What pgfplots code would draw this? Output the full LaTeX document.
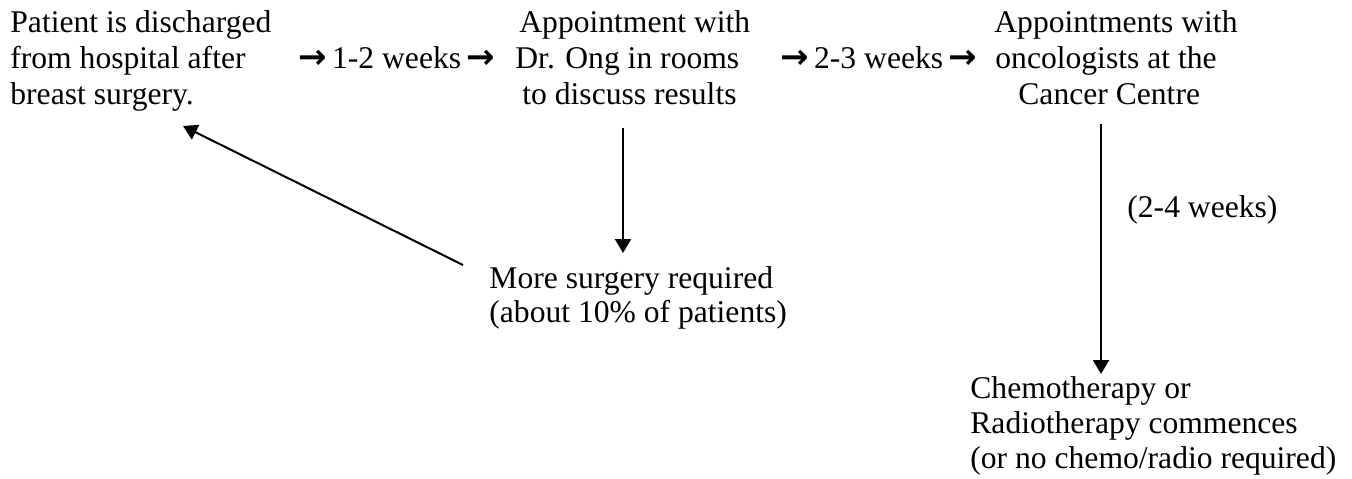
\documentclass[border=0pt]{standalone}
\usepackage{pgfplots}
\pgfplotsset{compat=1.18}
\usepackage{fontspec}
\setmainfont{Liberation Serif}
\newfontfamily\arr{DejaVu Sans Bold}
\usetikzlibrary{arrows.meta}
\newcommand{\ra}{{\arr\fontsize{17pt}{17pt}\selectfont →}}
\begin{document}
\begin{tikzpicture}
\begin{axis}[width=676pt,height=239pt,scale only axis,
  xmin=0,xmax=1352,ymin=0,ymax=478,y dir=reverse,
  hide axis,clip=false]
\addplot[draw=none] coordinates {(0,0) (1352,478)};
\tikzset{t/.style={anchor=base west,inner sep=0pt,font=\fontsize{15.8pt}{18pt}\selectfont}}
% block 1
\node[t] at (axis cs:10,32) {Patient is discharged};
\node[t] at (axis cs:10,68) {from hospital after};
\node[t] at (axis cs:10,104) {breast surgery.};
\node[t] at (axis cs:298,68) {\ra\,1-2 weeks\,\ra};
% block 2
\node[t] at (axis cs:519,32) {Appointment with};
\node[t] at (axis cs:515,68) {Dr. Ong in rooms};
\node[t] at (axis cs:522,104) {to discuss results};
\node[t] at (axis cs:780,68) {\ra\,2-3 weeks\,\ra};
% block 3
\node[t] at (axis cs:994,32) {Appointments with};
\node[t] at (axis cs:995,68) {oncologists at the};
\node[t] at (axis cs:1018,104) {Cancer Centre};
% more surgery
\node[t] at (axis cs:489,288) {More surgery required};
\node[t] at (axis cs:489,322) {(about 10\% of patients)};
% 2-4 weeks
\node[t] at (axis cs:1127,217) {(2-4 weeks)};
% chemo
\node[t] at (axis cs:970,398) {Chemotherapy or};
\node[t] at (axis cs:970,433) {Radiotherapy commences};
\node[t] at (axis cs:970,468) {(or no chemo/radio required)};
% arrows
\addplot[black,line width=1pt,-{Triangle[length=7pt,width=8pt]}] coordinates {(623,128) (623,253)};
\addplot[black,line width=1pt,-{Triangle[length=7pt,width=8pt]}] coordinates {(463,265) (183,126)};
\addplot[black,line width=1pt,-{Triangle[length=7pt,width=8pt]}] coordinates {(1101,124) (1101,374)};
\end{axis}
\end{tikzpicture}
\end{document}
